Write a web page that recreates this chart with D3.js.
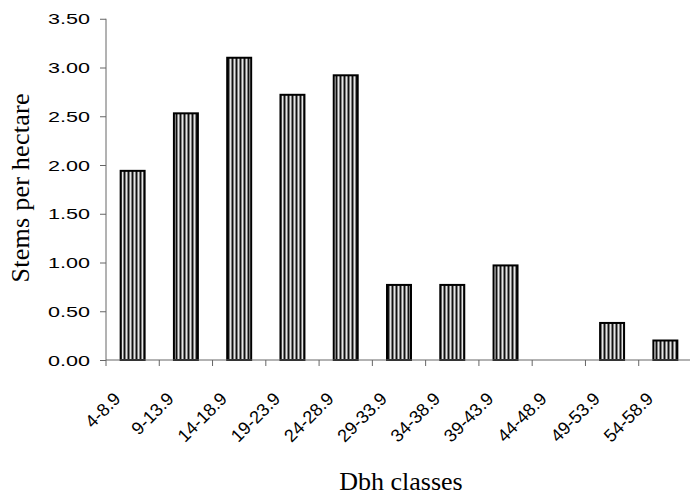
<!DOCTYPE html>
<html>
<head>
<meta charset="utf-8">
<script src="https://cdn.jsdelivr.net/npm/d3@7"></script>
<style>
  html, body { margin: 0; padding: 0; background: #fff; }
  svg { display: block; }
</style>
</head>
<body>
<svg id="chart" width="690" height="495"></svg>
<script>
const categories = ["4-8.9","9-13.9","14-18.9","19-23.9","24-28.9","29-33.9","34-38.9","39-43.9","44-48.9","49-53.9","54-58.9"];
const stemsPerHectare = [1.94, 2.53, 3.10, 2.72, 2.92, 0.77, 0.77, 0.97, 0, 0.38, 0.20];
const yTicks = [0, 0.5, 1.0, 1.5, 2.0, 2.5, 3.0, 3.5];
const yTitle = "Stems per hectare";
const xTitle = "Dbh classes";

(function () {
const svg = d3.select("#chart");
const plotLeft = 106, plotRight = 692, plotTop = 18.75, plotBottom = 360;

const x = d3.scaleBand().domain(categories).range([plotLeft, plotRight]).paddingInner(0.55).paddingOuter(0.275);
const y = d3.scaleLinear().domain([0, 3.5]).range([plotBottom, plotTop]);

// stripe pattern
const defs = svg.append("defs");
const pat = defs.append("pattern").attr("id", "stripes").attr("patternUnits", "userSpaceOnUse")
  .attr("width", 4).attr("height", 10);
pat.append("rect").attr("x", 0).attr("y", 0).attr("width", 4).attr("height", 10).attr("fill", "#808080");
pat.append("rect").attr("x", 0).attr("y", 0).attr("width", 1).attr("height", 10).attr("fill", "#111");
pat.append("rect").attr("x", 2).attr("y", 0).attr("width", 1).attr("height", 10).attr("fill", "#e6e6e6");

// bars
svg.append("g").selectAll("rect").data(categories).join("rect")
  .attr("x", d => x(d))
  .attr("y", (d, i) => y(stemsPerHectare[i]))
  .attr("width", x.bandwidth())
  .attr("height", (d, i) => plotBottom - y(stemsPerHectare[i]))
  .attr("fill", "url(#stripes)")
  .attr("stroke", (d, i) => stemsPerHectare[i] > 0 ? "#000" : "none")
  .attr("stroke-width", 2);

// y axis
const axisColor = "#666";
const yAxis = svg.append("g").attr("transform", `translate(${plotLeft},0)`)
  .call(d3.axisLeft(y).tickValues(yTicks).tickSize(6).tickPadding(0).tickFormat(d3.format(".2f")));
yAxis.select(".domain").attr("stroke", axisColor).attr("d", `M0,${plotTop}V${plotBottom}`);
yAxis.selectAll(".tick line").attr("stroke", axisColor);
yAxis.selectAll(".tick text")
  .attr("x", -16)
  .attr("dy", "0.36em")
  .attr("font-family", "Liberation Sans, Arial, sans-serif")
  .attr("font-size", 14)
  .attr("fill", "#000")
  .attr("textLength", 42)
  .attr("lengthAdjust", "spacingAndGlyphs");

// x axis
const step = x.step();
const xAxis = svg.append("g").attr("transform", `translate(0,${plotBottom})`);
xAxis.append("line").attr("x1", plotLeft).attr("x2", 690).attr("y1", 0).attr("y2", 0).attr("stroke", axisColor);
xAxis.selectAll("line.tk").data(d3.range(categories.length + 1)).join("line").attr("class", "tk")
  .attr("x1", i => plotLeft + i * step).attr("x2", i => plotLeft + i * step)
  .attr("y1", 0).attr("y2", 6).attr("stroke", axisColor);
xAxis.selectAll("text").data(categories).join("text")
  .attr("transform", d => `translate(${x(d) + x.bandwidth() / 2 - 11},${40}) rotate(-45)`)
  .attr("text-anchor", "end")
  .attr("font-family", "Liberation Sans, Arial, sans-serif")
  .attr("font-size", 18)
  .attr("fill", "#000")
  .text(d => d);

// titles
svg.append("text")
  .attr("transform", `translate(29,188) rotate(-90)`)
  .attr("text-anchor", "middle")
  .attr("font-family", "Liberation Serif, Times New Roman, serif")
  .attr("font-size", 26)
  .attr("textLength", 189)
  .attr("lengthAdjust", "spacing")
  .text(yTitle);

svg.append("text")
  .attr("x", 401).attr("y", 490)
  .attr("text-anchor", "middle")
  .attr("font-family", "Liberation Serif, Times New Roman, serif")
  .attr("font-size", 26)
  .text(xTitle);
})();
</script>
</body>
</html>
